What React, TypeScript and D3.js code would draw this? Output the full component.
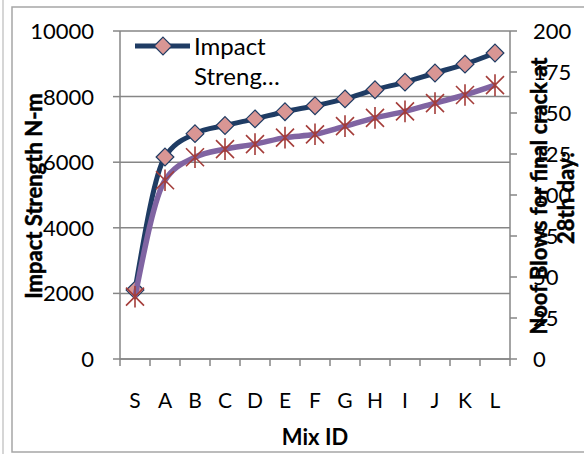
import React, { useEffect, useRef } from 'react';
import * as d3 from 'd3';

const mixIds = ['S', 'A', 'B', 'C', 'D', 'E', 'F', 'G', 'H', 'I', 'J', 'K', 'L'];
const impactStrength = [2100, 6160, 6870, 7120, 7320, 7540, 7720, 7930, 8210, 8440, 8720, 8990, 9330];
const blowsAt28 = [38, 109, 123, 128, 131, 135, 137, 142, 147, 151, 156, 161, 167];
const leftTicks = [0, 2000, 4000, 6000, 8000, 10000];
const rightTicks = [0, 25, 50, 75, 100, 125, 150, 175, 200];

const FONT = 'Lato, "Open Sans", sans-serif';

const App: React.FC = () => {
  const svgRef = useRef<SVGSVGElement | null>(null);

  useEffect(() => {
    const svg = d3.select(svgRef.current!);
    svg.selectAll('*').remove();

    const width = 584;
    const height = 454;
    const margin = { top: 31, left: 120 };
    const plotW = 390;
    const plotH = 328;

    // outer frame
    svg.append('rect').attr('x', 12).attr('y', 7).attr('width', width).attr('height', 445)
      .attr('fill', 'none').attr('stroke', '#a6a6a6').attr('stroke-width', 1.5);
    svg.append('line').attr('x1', 3).attr('x2', 3).attr('y1', 0).attr('y2', height)
      .attr('stroke', '#c8c8c8').attr('stroke-width', 1.5);

    const chart = svg.append('g').attr('transform', `translate(${margin.left}, ${margin.top})`);

    const x = d3.scaleBand<string>().domain(mixIds).range([0, plotW]);
    const yLeft = d3.scaleLinear().domain([0, 10000]).range([plotH, 0]);
    const yRight = d3.scaleLinear().domain([0, 200]).range([plotH, 0]);
    const cx = (d: string) => (x(d) as number) + x.bandwidth() / 2;

    // gridlines
    chart.selectAll('.grid').data(leftTicks).enter().append('line')
      .attr('x1', 0).attr('x2', plotW)
      .attr('y1', (d) => yLeft(d)).attr('y2', (d) => yLeft(d))
      .attr('stroke', '#868686').attr('stroke-width', 1.5);

    const axisColor = '#868686';
    // left axis
    chart.append('line').attr('x1', 0).attr('x2', 0).attr('y1', 0).attr('y2', plotH)
      .attr('stroke', axisColor).attr('stroke-width', 1.5);
    chart.selectAll('.ltick').data(leftTicks).enter().append('line')
      .attr('x1', -7).attr('x2', 0).attr('y1', (d) => yLeft(d)).attr('y2', (d) => yLeft(d))
      .attr('stroke', axisColor).attr('stroke-width', 1.5);
    chart.selectAll('.llabel').data(leftTicks).enter().append('text')
      .attr('x', -26).attr('y', (d) => yLeft(d)).attr('dy', '0.36em')
      .attr('text-anchor', 'end').attr('font-family', FONT).attr('font-size', 22)
      .text((d) => d);

    // right axis
    chart.append('line').attr('x1', plotW).attr('x2', plotW).attr('y1', 0).attr('y2', plotH)
      .attr('stroke', axisColor).attr('stroke-width', 1.5);
    chart.selectAll('.rtick').data(rightTicks).enter().append('line')
      .attr('x1', plotW).attr('x2', plotW + 7).attr('y1', (d) => yRight(d)).attr('y2', (d) => yRight(d))
      .attr('stroke', axisColor).attr('stroke-width', 1.5);
    chart.selectAll('.rlabel').data(rightTicks).enter().append('text')
      .attr('x', plotW + 23).attr('y', (d) => yRight(d)).attr('dy', '0.36em')
      .attr('text-anchor', 'start').attr('font-family', FONT).attr('font-size', 22)
      .text((d) => d);

    // bottom axis
    chart.append('line').attr('x1', 0).attr('x2', plotW).attr('y1', plotH).attr('y2', plotH)
      .attr('stroke', axisColor).attr('stroke-width', 1.5);
    const bounds = mixIds.map((d) => x(d) as number).concat([plotW]);
    chart.selectAll('.btick').data(bounds).enter().append('line')
      .attr('x1', (d) => d).attr('x2', (d) => d).attr('y1', plotH).attr('y2', plotH + 7)
      .attr('stroke', axisColor).attr('stroke-width', 1.5);
    chart.selectAll('.blabel').data(mixIds).enter().append('text')
      .attr('x', (d) => cx(d)).attr('y', plotH + 49)
      .attr('text-anchor', 'middle').attr('font-family', FONT).attr('font-size', 21)
      .text((d) => d);

    // axis titles
    chart.append('text').attr('x', plotW / 2).attr('y', plotH + 86)
      .attr('text-anchor', 'middle').attr('font-family', FONT).attr('font-size', 22).attr('font-weight', 'bold')
      .text('Mix ID');
    const title = (tx: number, ty: number, label: string) =>
      svg.append('text').attr('transform', `translate(${tx}, ${ty}) rotate(-90)`)
        .attr('text-anchor', 'middle').attr('font-family', FONT).attr('font-size', 22).attr('font-weight', 'bold')
        .attr('stroke', '#000').attr('stroke-width', 0.5)
        .text(label);
    title(42, 196, 'Impact Strength N-m');
    title(547, 196, 'Noof Blows for final crack at');
    title(574, 198, '28th day:');

    // series 1
    const line1 = d3.line<number>()
      .x((_, i) => cx(mixIds[i]))
      .y((d) => yLeft(d))
      .curve(d3.curveMonotoneX);
    chart.append('path').attr('d', line1(impactStrength)).attr('fill', 'none')
      .attr('stroke', '#1f3c64').attr('stroke-width', 5).attr('stroke-linejoin', 'round');
    const diamond = d3.symbol().type(d3.symbolDiamond2).size(200);
    chart.selectAll('.d1').data(impactStrength).enter().append('path')
      .attr('d', diamond() as string)
      .attr('transform', (d, i) => `translate(${cx(mixIds[i])}, ${yLeft(d)})`)
      .attr('fill', '#d99694').attr('stroke', '#1f3c64').attr('stroke-width', 1.2);

    // series 2
    const line2 = d3.line<number>()
      .x((_, i) => cx(mixIds[i]))
      .y((d) => yRight(d))
      .curve(d3.curveMonotoneX);
    chart.append('path').attr('d', line2(blowsAt28)).attr('fill', 'none')
      .attr('stroke', '#8064a2').attr('stroke-width', 5.5).attr('stroke-linejoin', 'round');
    const star = (s: number) =>
      `M${-s},${-s}L${s},${s}M${-s},${s}L${s},${-s}M0,${-s * 1.2}L0,${s * 1.2}`;
    chart.selectAll('.d2').data(blowsAt28).enter().append('path')
      .attr('d', star(9))
      .attr('transform', (d, i) => `translate(${cx(mixIds[i])}, ${yRight(d)})`)
      .attr('fill', 'none').attr('stroke', '#a43d3a').attr('stroke-width', 1.6);

    // legend
    const legend = svg.append('g').attr('transform', 'translate(135, 46)');
    legend.append('line').attr('x1', 0).attr('x2', 55).attr('y1', 0).attr('y2', 0)
      .attr('stroke', '#1f3c64').attr('stroke-width', 5);
    legend.append('path').attr('d', diamond() as string).attr('transform', 'translate(28, 0)')
      .attr('fill', '#d99694').attr('stroke', '#1f3c64').attr('stroke-width', 1.2);
    legend.append('text').attr('x', 59).attr('y', 9).attr('font-family', FONT).attr('font-size', 24)
      .text('Impact');
    legend.append('text').attr('x', 59).attr('y', 39).attr('font-family', FONT).attr('font-size', 24)
      .text('Streng…');
  }, []);

  return (
    <svg ref={svgRef} width={584} height={454}
      style={{ position: 'absolute', left: 0, top: 0, background: '#fff' }} />
  );
};

export default App;
